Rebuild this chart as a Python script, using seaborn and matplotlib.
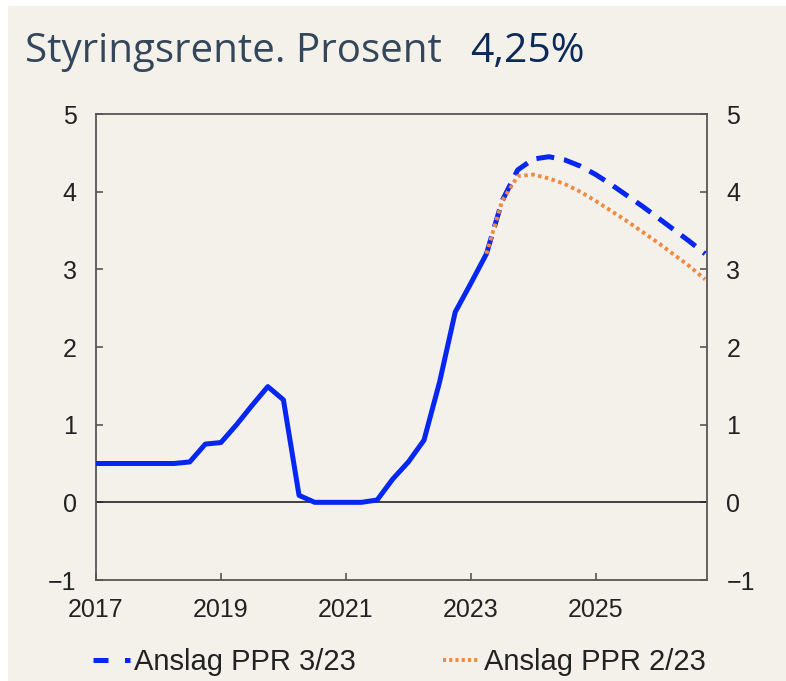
import numpy as np
import pandas as pd
import matplotlib
matplotlib.use("Agg")
import matplotlib.pyplot as plt
from matplotlib.patches import Rectangle
import seaborn as sns

# ---- data (quarterly) ----
hist_x = [2017.0, 2017.25, 2017.5, 2017.75, 2018.0, 2018.25, 2018.5, 2018.75,
          2019.0, 2019.25, 2019.5, 2019.75, 2020.0, 2020.25, 2020.5, 2020.75,
          2021.0, 2021.25, 2021.5, 2021.75, 2022.0, 2022.25, 2022.5, 2022.75,
          2023.0, 2023.25]
hist_y = [0.5, 0.5, 0.5, 0.5, 0.5, 0.5, 0.52, 0.75,
          0.77, 1.0, 1.25, 1.49, 1.32, 0.09, 0.0, 0.0,
          0.0, 0.0, 0.03, 0.3, 0.52, 0.8, 1.55, 2.45,
          2.82, 3.2]

fc_x = [2023.25, 2023.5, 2023.75, 2024.0, 2024.25, 2024.5, 2024.75, 2025.0,
        2025.25, 2025.5, 2025.75, 2026.0, 2026.25, 2026.5, 2026.75]
ppr323 = [3.2, 3.88, 4.28, 4.42, 4.45, 4.41, 4.33, 4.22,
          4.09, 3.95, 3.81, 3.66, 3.51, 3.36, 3.2]
ppr223 = [3.2, 3.88, 4.2, 4.22, 4.17, 4.1, 4.0, 3.88,
          3.75, 3.62, 3.48, 3.34, 3.19, 3.04, 2.87]

labels = ["Anslag PPR 3/23", "Anslag PPR 2/23"]
title = "Styringsrente. Prosent"
current = "4,25%"

BLUE = "#0626f2"
ORANGE = "#ef8a3e"
BG = "#f4f1eb"

sns.set_theme(style="white")
plt.rcParams["font.family"] = ["Liberation Sans", "DejaVu Sans"]

fig = plt.figure(figsize=(7.86, 6.81), dpi=100, facecolor="white")
fig.patches.append(Rectangle((8 / 786, 0), 1, 1 - 6 / 681, transform=fig.transFigure,
                             facecolor=BG, edgecolor="none", zorder=-10))
ax = fig.add_axes([96 / 786, 101 / 681, 611 / 786, 466 / 681])
ax.set_facecolor(BG)

hist = pd.DataFrame({"x": hist_x, "y": hist_y})
f1 = pd.DataFrame({"x": fc_x, "y": ppr323})
f2 = pd.DataFrame({"x": fc_x, "y": ppr223})

ax.axhline(0, color="#222222", lw=1.2, zorder=1)
sns.lineplot(data=hist, x="x", y="y", ax=ax, color=BLUE, lw=3.6, zorder=3)
sns.lineplot(data=f1, x="x", y="y", ax=ax, color=BLUE, lw=3.6, zorder=3,
             label=labels[0])
ax.lines[-1].set_dashes([3.6, 2.0])
sns.lineplot(data=f2, x="x", y="y", ax=ax, color=ORANGE, lw=2.8, zorder=4,
             label=labels[1])
ax.lines[-1].set_dashes([0.9, 0.9])

ax.set_xlim(2017, 2026.78)
ax.set_ylim(-1, 5)
ax.set_xticks([2017, 2019, 2021, 2023, 2025])
ax.set_xticklabels(["2017", "2019", "2021", "2023", "2025"])
ax.set_yticks([-1, 0, 1, 2, 3, 4, 5])
ax.set_yticklabels(["\u22121", "0", "1", "2", "3", "4", "5"])
ax.set_xlabel("")
ax.set_ylabel("")

for s in ax.spines.values():
    s.set_color("#555555")
    s.set_linewidth(1.3)

ax.tick_params(axis="both", direction="in", length=5, width=1.2, color="#555555",
               labelsize=18, labelcolor="#222222")
ax.tick_params(axis="y", left=True, right=True, labelleft=True, labelright=True, pad=14)
ax.tick_params(axis="x", bottom=True, pad=13)

handles, labs = ax.get_legend_handles_labels()
ax.get_legend().remove()
leg = fig.legend(handles, labs, loc="center", bbox_to_anchor=(0.508, 1 - 662 / 681), ncol=2,
                 frameon=False, fontsize=21, handlelength=1.28, handletextpad=0.12,
                 columnspacing=3.0, labelcolor="#222222")
lh = leg.get_lines()
lh[0].set_dashes([3.0, 3.3, 1.2, 0.5])
lh[1].set_dashes([0.8, 0.8])

fig.text(25 / 786, 1 - 62 / 681, title, fontsize=29, color="#34465a",
         family=["Open Sans", "DejaVu Sans"], va="baseline", ha="left")
fig.text(470 / 786, 1 - 62 / 681, current, fontsize=29.5, color="#0c2a58",
         family=["Open Sans", "DejaVu Sans"], va="baseline", ha="left")

fig.savefig("out.png", dpi=100, facecolor=fig.get_facecolor())
